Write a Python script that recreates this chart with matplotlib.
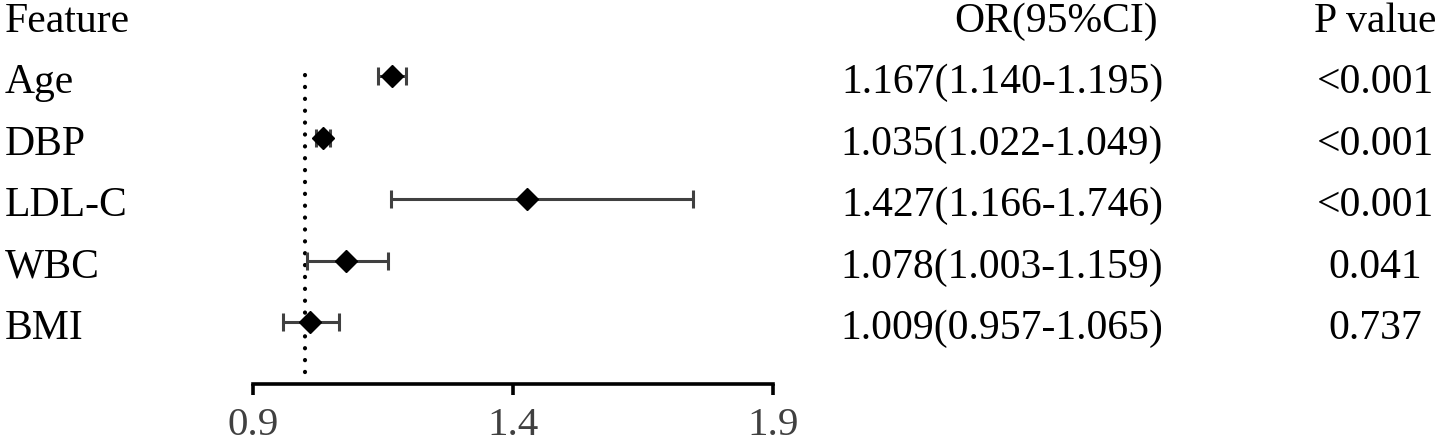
import matplotlib
matplotlib.use("Agg")
import matplotlib.pyplot as plt
from matplotlib.transforms import blended_transform_factory

# data
features = ["Age", "DBP", "LDL-C", "WBC", "BMI"]
odds = [1.167, 1.035, 1.427, 1.078, 1.009]
ci_low = [1.140, 1.022, 1.166, 1.003, 0.957]
ci_high = [1.195, 1.049, 1.746, 1.159, 1.065]
p_values = ["<0.001", "<0.001", "<0.001", "0.041", "0.737"]
x_ticks = [0.9, 1.4, 1.9]

plt.rcParams['font.family'] = ['Liberation Serif', 'DejaVu Serif']

fig = plt.figure(figsize=(14.45, 4.47), dpi=100)
ax = fig.add_axes([0, 0, 1, 1])
ax.set_xlim(0.4135, 3.1923)
ax.set_ylim(7.0325, -0.2358)

rows = list(range(1, len(features) + 1))

# error bars + diamonds
err_lo = [o - l for o, l in zip(odds, ci_low)]
err_hi = [h - o for o, h in zip(odds, ci_high)]
ax.errorbar(odds, rows, xerr=[err_lo, err_hi], fmt='none', ecolor='#404040',
            elinewidth=2.2, capsize=6.5, capthick=2.2, zorder=2)
ax.plot(odds, rows, linestyle='none', marker='D', markersize=11,
        color='black', zorder=3)

# reference line at OR = 1
ax.vlines(1.0, 0.98, 5.9, colors='black', linewidth=3,
          linestyles=(0, (0.05, 2.8)), zorder=1)
ax.collections[-1].set_capstyle('round')

# x axis
for s in ['top', 'left', 'right']:
    ax.spines[s].set_visible(False)
ax.spines['bottom'].set_position(('data', 6))
ax.spines['bottom'].set_bounds(x_ticks[0], x_ticks[-1])
ax.spines['bottom'].set_linewidth(2.6)
ax.spines['bottom'].set_capstyle('projecting')
ax.set_xticks(x_ticks)
ax.set_xticklabels([str(t) for t in x_ticks])
ax.tick_params(axis='x', direction='out', length=8, width=2.6, pad=9,
               labelsize=29.5, labelcolor='#404040', color='black')
ax.set_yticks([])

# table text
tr = blended_transform_factory(fig.transFigure, ax.transData)
fs = 30
off = 0.28
ax.text(0.0035, 0 + off, "Feature", transform=tr, fontsize=fs, va='baseline', ha='left')
ax.text(0.8010, 0 + off, "OR(95%CI)", transform=tr, fontsize=fs, va='baseline', ha='right')
ax.text(0.952, 0 + off, "P value", transform=tr, fontsize=fs, va='baseline', ha='center')
for r, name, o, lo, hi, p in zip(rows, features, odds, ci_low, ci_high, p_values):
    ax.text(0.0035, r + off, name, transform=tr, fontsize=fs, va='baseline', ha='left')
    ax.text(0.805, r + off, f"{o:.3f}({lo:.3f}-{hi:.3f})", transform=tr,
            fontsize=fs, va='baseline', ha='right')
    ax.text(0.952, r + off, p, transform=tr, fontsize=fs, va='baseline', ha='center')

fig.savefig("out.png", dpi=100)
